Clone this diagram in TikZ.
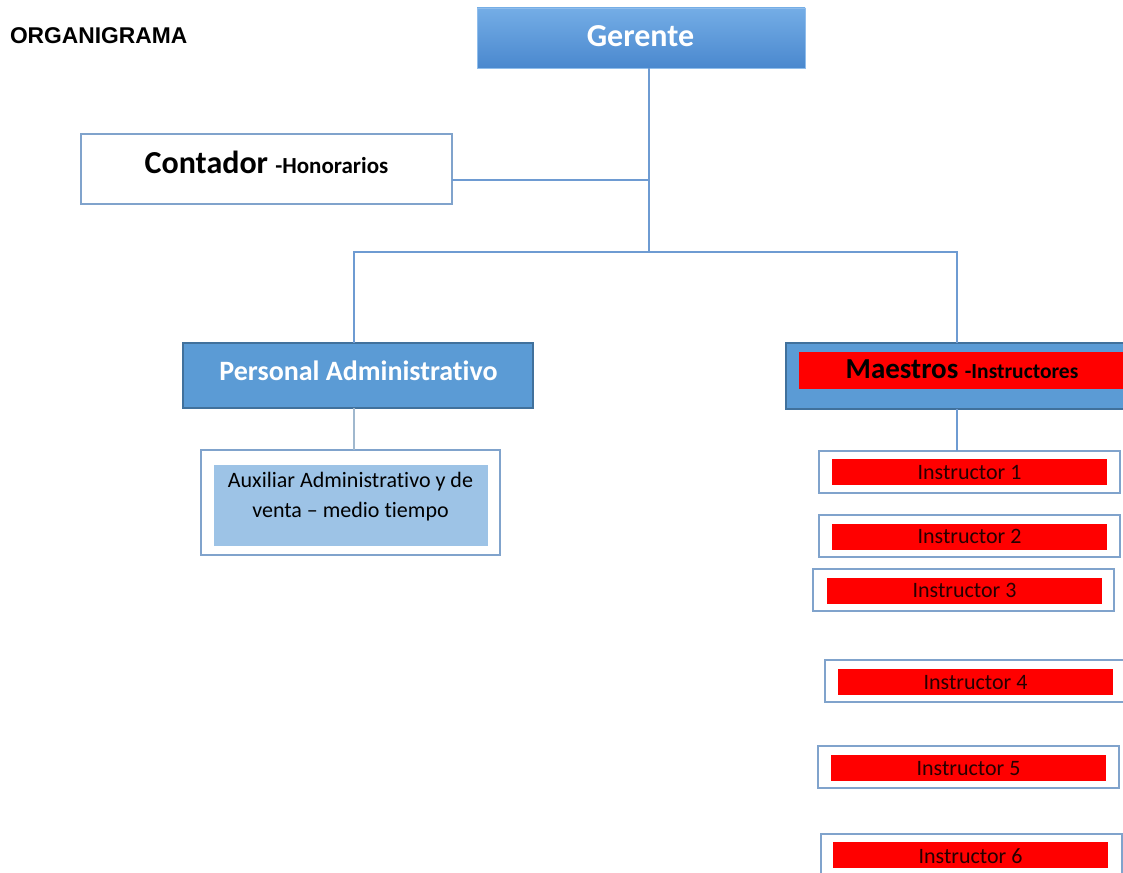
\documentclass[tikz,border=0pt]{standalone}
\usepackage{fontspec}
\setmainfont{Carlito}[Ligatures=NoCommon]
\newfontfamily\headfont{Liberation Sans}
\definecolor{gerTop}{RGB}{116,173,230}
\definecolor{gerBot}{RGB}{74,136,206}
\definecolor{boxBlue}{RGB}{91,155,213}
\definecolor{boxEdge}{RGB}{65,113,156}
\definecolor{frameBlue}{RGB}{128,163,204}
\definecolor{linkBlue}{RGB}{110,155,210}
\definecolor{linkGrey}{RGB}{160,184,206}
\definecolor{auxFill}{RGB}{157,195,230}
\definecolor{barRed}{RGB}{255,0,0}
\newcommand{\fs}[1]{\fontsize{#1}{#1}\selectfont}
\begin{document}
\begin{tikzpicture}[x=1pt,y=-1pt,
  plain/.style={inner sep=0pt,outer sep=0pt},
  headbox/.style={plain,top color=gerTop,bottom color=gerBot,draw=gerTop!80!white,line width=0.8pt},
  bluebox/.style={plain,fill=boxBlue,draw=boxEdge,line width=1.6pt},
  framebox/.style={plain,fill=white,draw=frameBlue,line width=1.8pt},
  auxbox/.style={plain,fill=auxFill},
  redbar/.style={plain,fill=barRed},
  label/.style={plain,anchor=base},
  link/.style={draw=linkBlue,line width=1.6pt},
  softlink/.style={draw=linkGrey,line width=1.6pt}]
\useasboundingbox (0,0) rectangle (1123,872);
\clip (0,0) rectangle (1123,872);

% title
\node[plain,anchor=base west] (title) at (10,44) {\headfont\bfseries\fs{22.8}ORGANIGRAMA};

% manager
\node[headbox,minimum width=328pt,minimum height=60pt] (ger) at (641,38) {};
\node[label,text=white] (gerT) at (640.5,47) {\bfseries\fs{32}Gerente};

% accountant
\node[framebox,minimum width=371pt,minimum height=70pt] (cont) at (266.5,169) {};
\node[label] (contT) at (266.5,173) {\bfseries\fs{32}Contador \fs{23}-Honorarios};

% administrative staff
\node[bluebox,minimum width=350pt,minimum height=65pt] (pers) at (358,375.5) {};
\node[label,text=white] (persT) at (358.5,380) {\bfseries\fs{28}Personal Administrativo};

\node[framebox,minimum width=299pt,minimum height=105pt] (aux) at (350.5,502.5) {};
\node[auxbox,minimum width=274pt,minimum height=81pt] (auxIn) at (351,505.5) {};
\node[label] (auxT1) at (350.5,487) {\fs{22}Auxiliar Administrativo y de};
\node[label] (auxT2) at (350.5,517) {\fs{22}venta – medio tiempo};

% teachers
\node[bluebox,minimum width=354pt,minimum height=66pt] (maes) at (963,376) {};
\node[redbar,minimum width=328pt,minimum height=37pt] (maesIn) at (963,370.5) {};
\node[label] (maesT) at (962,378) {\bfseries\fs{29}Maestros \fs{21.5}-Instructores};

% instructors: outer left, outer top, inner left, inner top, baseline
\foreach \n/\ox/\oy/\ix/\iy/\bl in {1/819/451/832/459/479,
                                     2/819/515/832/524/543,
                                     3/813/569/827/578/597,
                                     4/825/660/838/669/689,
                                     5/818/746/831/755/775,
                                     6/821/834/833/842/863}{
  \node[framebox,minimum width=301pt,minimum height=42pt] (o\n) at (\ox+150.5,\oy+21) {};
  \node[redbar,minimum width=275pt,minimum height=26pt] (r\n) at (\ix+137.5,\iy+13) {};
  \node[label,text=black!85!red] (t\n) at (\ix+137.5,\bl) {\fs{22}Instructor \n};
}

% connectors
\coordinate (trunk) at (649,252);
\coordinate (cj) at (649,180);
\coordinate (lj) at (354,252);
\coordinate (rj) at (957,252);
\draw[link] (ger.south -| trunk) -- (trunk);
\draw[link] (cont.east |- cj) -- (cj);
\draw[link] (pers.north -| lj) -- (lj) -- (rj) -- (maes.north -| rj);
\draw[softlink] (pers.south -| lj) -- (aux.north -| lj);
\draw[link] (maes.south -| rj) -- (o1.north -| rj);
\end{tikzpicture}
\end{document}
